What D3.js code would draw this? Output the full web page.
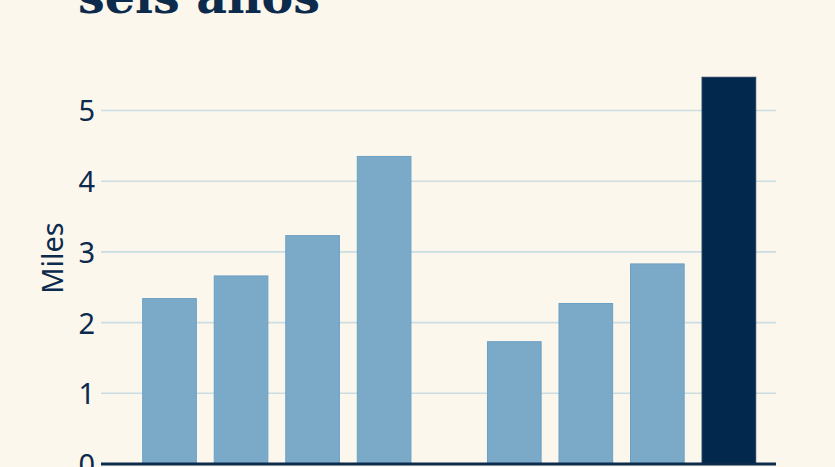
<!DOCTYPE html>
<html>
<head>
<meta charset="utf-8">
<script src="https://cdn.jsdelivr.net/npm/d3@7"></script>
<style>
  html, body { margin: 0; padding: 0; background: #fcf7ec; }
  svg { display: block; }
</style>
</head>
<body>
<svg id="chart" width="835" height="467"></svg>
<script>
// ---- data ----
const titleText = "seis años";
const yLabel = "Miles";
const groups = ["g1", "g2"];
const categoriesG1 = ["a1", "a2", "a3", "a4"];
const categoriesG2 = ["b1", "b2", "b3", "b4"];
const valuesG1 = [2.34, 2.66, 3.23, 4.35];
const valuesG2 = [1.73, 2.27, 2.83, 5.47];
const highlightCategory = "b4";
const yTicks = [0, 1, 2, 3, 4, 5];

// ---- layout ----
const W = 835, H = 467;
const plot = { left: 101, right: 776, bottom: 464 };
const unit = 70.7;

const svg = d3.select("#chart");
svg.append("rect").attr("width", W).attr("height", H).attr("fill", "#fcf7ec");

const y = d3.scaleLinear().domain([0, 5.5]).range([plot.bottom, plot.bottom - 5.5 * unit]);

const xOuter = d3.scaleBand().domain(groups).range([142.7, 755.7]).paddingInner(0.222).paddingOuter(0);
const xInner = d3.scaleBand().domain([0, 1, 2, 3]).range([0, xOuter.bandwidth()]).paddingInner(0.25).paddingOuter(0);

// title (cropped at top)
svg.append("text")
  .attr("x", 78).attr("y", 13)
  .attr("font-family", "DejaVu Serif")
  .attr("font-weight", "bold")
  .attr("font-size", 47.5)
  .attr("fill", "#0b2a4c")
  .text(titleText);

// gridlines
svg.append("g").selectAll("line").data(yTicks.filter(d => d > 0)).join("line")
  .attr("x1", plot.left).attr("x2", plot.right)
  .attr("y1", d => y(d)).attr("y2", d => y(d))
  .attr("stroke", "#c9dde2").attr("stroke-width", 1.6);

// y axis labels
const yAxis = d3.axisLeft(y).tickValues(yTicks).tickFormat(d3.format("d")).tickSize(0).tickPadding(0);
const gy = svg.append("g").attr("transform", `translate(95,0)`).call(yAxis);
gy.select(".domain").remove();
gy.selectAll("text")
  .attr("font-family", "Noto Sans")
  .attr("font-size", 29)
  .attr("fill", "#0b2a4c")
  .attr("dy", "0.36em");

// y label
svg.append("text")
  .attr("transform", `translate(63,258) rotate(-90)`)
  .attr("text-anchor", "middle")
  .attr("font-family", "Noto Sans")
  .attr("font-size", 29)
  .attr("fill", "#0b2a4c")
  .text(yLabel);

// bars
const data = [
  ...categoriesG1.map((c, i) => ({ group: "g1", idx: i, cat: c, value: valuesG1[i] })),
  ...categoriesG2.map((c, i) => ({ group: "g2", idx: i, cat: c, value: valuesG2[i] }))
];
svg.append("g").selectAll("rect").data(data).join("rect")
  .attr("x", d => xOuter(d.group) + xInner(d.idx))
  .attr("width", xInner.bandwidth())
  .attr("y", d => y(d.value))
  .attr("height", d => y(0) - y(d.value))
  .attr("fill", d => d.cat === highlightCategory ? "#03284d" : "#7baac8")
  .attr("stroke", d => d.cat === highlightCategory ? "#1d3a5a" : "#6ba0c4")
  .attr("stroke-width", 1);

// baseline axis
svg.append("line")
  .attr("x1", plot.left).attr("x2", plot.right)
  .attr("y1", y(0)).attr("y2", y(0))
  .attr("stroke", "#0b2a4c").attr("stroke-width", 3);
</script>
</body>
</html>
